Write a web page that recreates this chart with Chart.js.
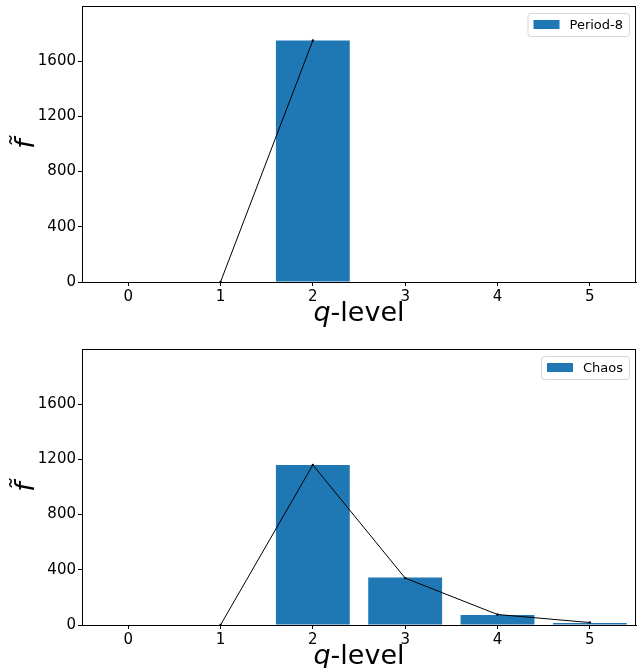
<!DOCTYPE html>
<html lang="en">
<head>
<meta charset="utf-8">
<title>q-level</title>
<script src="https://cdn.jsdelivr.net/npm/chart.js@4.4.0/dist/chart.umd.min.js"></script>
<style>
body { margin: 0; background: #fff; }
.box { position: absolute; left: 0; width: 637px; }
</style>
</head>
<body>
<div class="box" style="top:0;height:340px"><canvas id="top"></canvas></div>
<div class="box" style="top:340px;height:328px"><canvas id="bottom"></canvas></div>
<script>
const qLevels = ['0', '1', '2', '3', '4', '5'];
const period8Bars = [0, 0, 1750, 0, 0, 0];
const period8Line = [null, 0, 1750, null, null, null];
const chaosBars = [0, 0, 1160, 345, 72, 14];
const chaosLine = [null, 0, 1160, 340, 76, 18];
const yTicks = [0, 400, 800, 1200, 1600];

const FONT = "'DejaVu Sans', sans-serif";
const BLUE = '#1f77b4';

// frame, axis titles and legend box drawn like matplotlib
const mplBits = {
	id: 'mplBits',
	afterDraw(chart) {
		const ctx = chart.ctx;
		const a = chart.chartArea;
		ctx.save();
		ctx.strokeStyle = '#000';
		ctx.lineWidth = 1;
		ctx.strokeRect(Math.round(a.left) + 0.5, Math.round(a.top) + 0.5, Math.round(a.right - a.left) - 1, Math.round(a.bottom - a.top));

		// x title: italic q + "-level"
		ctx.fillStyle = '#000';
		ctx.textBaseline = 'alphabetic';
		ctx.textAlign = 'left';
		const fq = 'italic 27px ' + FONT, fr = '27px ' + FONT;
		ctx.font = fq; const wq = ctx.measureText('q').width;
		ctx.font = fr; const wr = ctx.measureText('-level').width;
		const x0 = (a.left + a.right) / 2 - (wq + wr) / 2;
		const by = a.bottom + 39;
		ctx.font = fq; ctx.fillText('q', x0, by);
		ctx.font = fr; ctx.fillText('-level', x0 + wq, by);

		// y title
		ctx.save();
		ctx.translate(34, (a.top + a.bottom) / 2);
		ctx.rotate(-Math.PI / 2);
		ctx.font = 'italic 27px ' + FONT;
		ctx.textAlign = 'center';
		ctx.fillText('f\u0303', 0, 0);
		ctx.restore();

		// legend
		const label = chart.data.datasets[0].label;
		ctx.font = '13px ' + FONT;
		const tw = ctx.measureText(label).width;
		const w = 6 + 26 + 10 + tw + 6;
		const h = 23;
		const lx = a.right - 7 - w, ly = a.top + 7;
		ctx.fillStyle = 'rgba(255,255,255,0.8)';
		ctx.strokeStyle = '#d6d6d6';
		ctx.beginPath();
		ctx.roundRect(lx + 0.5, ly + 0.5, w, h, 3);
		ctx.fill();
		ctx.stroke();
		ctx.fillStyle = BLUE;
		ctx.fillRect(lx + 6, ly + 7, 26, 9);
		ctx.fillStyle = '#000';
		ctx.textBaseline = 'middle';
		ctx.fillText(label, lx + 42, ly + h / 2 + 1);
		ctx.restore();
	}
};

function makeChart(id, label, bars, line, padTop, xHeight) {
	return new Chart(document.getElementById(id), {
		data: {
			labels: qLevels,
			datasets: [{
				type: 'bar',
				label: label,
				data: bars,
				backgroundColor: BLUE,
				borderWidth: 0,
				inflateAmount: 0,
				barPercentage: 0.8,
				categoryPercentage: 1.0,
				order: 2
			}, {
				type: 'line',
				label: 'fit',
				data: line,
				borderColor: '#000',
				backgroundColor: '#000',
				borderWidth: 1,
				pointRadius: 1.2,
				pointBorderWidth: 0,
				spanGaps: false,
				order: 1
			}]
		},
		options: {
			responsive: true,
			maintainAspectRatio: false,
			animation: false,
			layout: { autoPadding: false, padding: { top: padTop, right: 1, left: 0, bottom: 0 } },
			plugins: { legend: { display: false }, tooltip: { enabled: false } },
			scales: {
				x: {
					offset: true,
					grid: { display: true, offset: false, drawOnChartArea: false, drawTicks: true, tickLength: 4, color: '#000' },
					border: { display: true, color: '#000' },
					ticks: { color: '#000', font: { family: FONT, size: 15 }, padding: 2, maxRotation: 0 },
					afterFit(s) { s.height = xHeight; s.paddingLeft = 0; s.paddingRight = 0; }
				},
				y: {
					min: 0,
					max: 2000,
					afterBuildTicks(s) { s.ticks = yTicks.map(v => ({ value: v })); },
					grid: { display: true, drawOnChartArea: false, drawTicks: true, tickLength: 4, color: '#000' },
					border: { display: true, color: '#000' },
					ticks: { color: '#000', font: { family: FONT, size: 15 }, padding: 2, callback: v => String(v) },
					afterFit(s) { s.width = 82; s.paddingTop = 0; s.paddingBottom = 0; }
				}
			}
		},
		plugins: [mplBits]
	});
}

makeChart('top', 'Period-8', period8Bars, period8Line, 6, 58);
makeChart('bottom', 'Chaos', chaosBars, chaosLine, 9, 43);
</script>
</body>
</html>
